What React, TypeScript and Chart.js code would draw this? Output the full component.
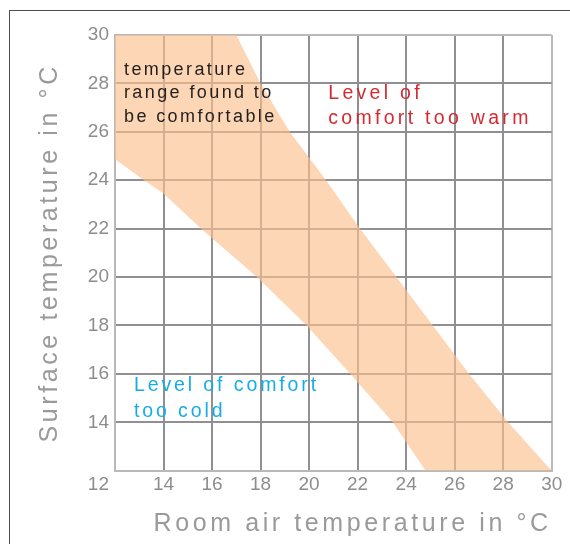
import React, { useEffect, useRef } from 'react';
import { Chart, registerables } from 'chart.js';

Chart.register(...registerables);

// ---- data ----
const X_TICKS = [12, 14, 16, 18, 20, 22, 24, 26, 28, 30];
const X_TICK_LABELS = ['', '14', '16', '18', '20', '22', '24', '26', '28', '30'];
const Y_TICKS = [12, 14, 16, 18, 20, 22, 24, 26, 28, 30];
const Y_TICK_LABELS = ['', '14', '16', '18', '20', '22', '24', '26', '28', '30'];
const CORNER_LABEL = '12';

// warm-side edge of the comfortable band (room air temp, surface temp)
const WARM_EDGE_X = [12, 17, 18, 19.2, 20.7, 22.1, 23.6, 25.1, 26.6, 28.2, 30];
const WARM_EDGE_Y = [30, 30, 28, 26, 24, 22, 20, 18, 16, 14, 12];
// cold-side edge of the comfortable band
const COLD_EDGE_X = [12, 13.2, 14, 15.55, 17.85, 19.9, 21.7, 23.45, 24.8, 30];
const COLD_EDGE_Y = [24.87, 24, 23.45, 22, 20, 18, 16, 14, 12, 12];

const X_TITLE = 'Room air temperature in °C';
const Y_TITLE = 'Surface temperature in °C';

const NOTE_COMFORT = ['temperature', 'range found to', 'be comfortable'];
const NOTE_WARM = ['Level of', 'comfort too warm'];
const NOTE_COLD = ['Level of comfort', 'too cold'];

// ---- styles ----
const FONT = "'Liberation Sans', Arial, Helvetica, sans-serif";
const TICK_SIZE = 19;
const TITLE_SIZE = 25;
const TICK_COLOR = '#8d8d8d';
const TITLE_COLOR = '#9a9a9a';
const GRID = '#8f8f94';
const EDGE = '#b9b9b9';
const BAND = 'rgba(250,192,141,0.65)';
const X_TICK_PAD = 3;
const Y_TICK_PAD = 6;

const NOTES = [
  { lines: NOTE_COMFORT, x: 12.37, y: 28.35, size: 18, spacing: 2.4, lh: 23.4, color: '#231f20' },
  { lines: NOTE_WARM, x: 20.79, y: 27.36, size: 19.5, spacing: 3.3, lh: 25.5, color: '#d52a31' },
  { lines: NOTE_COLD, x: 12.78, y: 15.29, size: 19.5, spacing: 2.9, lh: 26, color: '#16ade6' },
];

const edgeColor = (c: any) =>
  c.tick && (c.tick.value === 12 || c.tick.value === 30) ? EDGE : GRID;

const spacingPlugin = {
  id: 'spacing',
  beforeDraw(chart: any) {
    chart.ctx.letterSpacing = '3.6px';
  },
  beforeDatasetsDraw(chart: any) {
    chart.ctx.letterSpacing = '0px';
  },
};

const notesPlugin = {
  id: 'notes',
  afterDatasetsDraw(chart: any) {
    const { ctx, scales } = chart;
    const xs = scales.x;
    const ys = scales.y;
    for (const n of NOTES) {
      ctx.save();
      ctx.font = `${n.size}px ${FONT}`;
      ctx.fillStyle = n.color;
      ctx.letterSpacing = `${n.spacing}px`;
      ctx.textAlign = 'left';
      ctx.textBaseline = 'alphabetic';
      const px = xs.getPixelForValue(n.x);
      const py = ys.getPixelForValue(n.y);
      n.lines.forEach((line, i) => ctx.fillText(line, px, py + i * n.lh));
      ctx.restore();
    }
  },
  afterDraw(chart: any) {
    const { ctx, chartArea } = chart;
    ctx.save();
    ctx.letterSpacing = '0px';
    ctx.font = `${TICK_SIZE}px ${FONT}`;
    ctx.fillStyle = TICK_COLOR;
    ctx.textAlign = 'right';
    ctx.textBaseline = 'middle';
    ctx.fillText(
      CORNER_LABEL,
      chartArea.left - Y_TICK_PAD,
      chartArea.bottom + X_TICK_PAD + (TICK_SIZE * 1.2) / 2
    );
    ctx.restore();
  },
};

export default function App() {
  const ref = useRef<HTMLCanvasElement>(null);

  useEffect(() => {
    const warm = WARM_EDGE_X.map((x, i) => ({ x, y: WARM_EDGE_Y[i] }));
    const cold = COLD_EDGE_X.map((x, i) => ({ x, y: COLD_EDGE_Y[i] }));
    const chart = new Chart(ref.current as HTMLCanvasElement, {
      type: 'scatter',
      data: {
        datasets: [
          {
            data: warm,
            showLine: true,
            pointRadius: 0,
            borderWidth: 0,
            borderColor: 'rgba(0,0,0,0)',
            backgroundColor: BAND,
            fill: '+1',
            tension: 0,
          },
          {
            data: cold,
            showLine: true,
            pointRadius: 0,
            borderWidth: 0,
            borderColor: 'rgba(0,0,0,0)',
            fill: false,
            tension: 0,
          },
        ],
      },
      options: {
        responsive: false,
        animation: false,
        events: [],
        layout: { padding: { left: 0, top: 35, right: 18.3, bottom: 0 } },
        plugins: {
          legend: { display: false },
          tooltip: { enabled: false },
        },
        scales: {
          x: {
            type: 'linear',
            min: 12,
            max: 30,
            afterBuildTicks: (s: any) => {
              s.ticks = X_TICKS.map((v) => ({ value: v }));
            },
            afterFit: (s: any) => {
              s.height = 73.3;
            },
            ticks: {
              z: 1,
              autoSkip: false,
              maxRotation: 0,
              padding: X_TICK_PAD,
              color: TICK_COLOR,
              font: { family: FONT, size: TICK_SIZE },
              callback: (v: any) => X_TICK_LABELS[X_TICKS.indexOf(Number(v))],
            },
            grid: { color: edgeColor, lineWidth: 2, drawTicks: false },
            border: { color: EDGE, width: 2 },
            title: {
              display: true,
              text: X_TITLE,
              align: 'end',
              color: TITLE_COLOR,
              font: { family: FONT, size: TITLE_SIZE },
              padding: { top: 0, bottom: 5 },
            },
          },
          y: {
            type: 'linear',
            min: 12,
            max: 30,
            afterBuildTicks: (s: any) => {
              s.ticks = Y_TICKS.map((v) => ({ value: v }));
            },
            afterFit: (s: any) => {
              s.width = 115;
            },
            ticks: {
              z: 1,
              autoSkip: false,
              padding: Y_TICK_PAD,
              color: TICK_COLOR,
              font: { family: FONT, size: TICK_SIZE },
              callback: (v: any) => Y_TICK_LABELS[Y_TICKS.indexOf(Number(v))],
            },
            grid: { color: edgeColor, lineWidth: 2, drawTicks: false },
            border: { color: EDGE, width: 2 },
            title: {
              display: true,
              text: Y_TITLE,
              align: 'center',
              color: TITLE_COLOR,
              font: { family: FONT, size: TITLE_SIZE },
              padding: { top: 35, bottom: 0 },
            },
          },
        },
      },
      plugins: [spacingPlugin, notesPlugin],
    } as any);
    return () => chart.destroy();
  }, []);

  return (
    <div
      style={{
        position: 'fixed',
        left: 0,
        top: 0,
        width: 570,
        height: 544,
        background: '#fff',
        overflow: 'hidden',
      }}
    >
      <canvas
        ref={ref}
        width={570}
        height={544}
        style={{ display: 'block', width: 570, height: 544 }}
      />
      <div
        style={{
          position: 'absolute',
          left: 9,
          top: 10,
          right: -2,
          bottom: -2,
          borderTop: '1px solid #4d4d4d',
          borderLeft: '1px solid #4d4d4d',
          pointerEvents: 'none',
        }}
      />
    </div>
  );
}
